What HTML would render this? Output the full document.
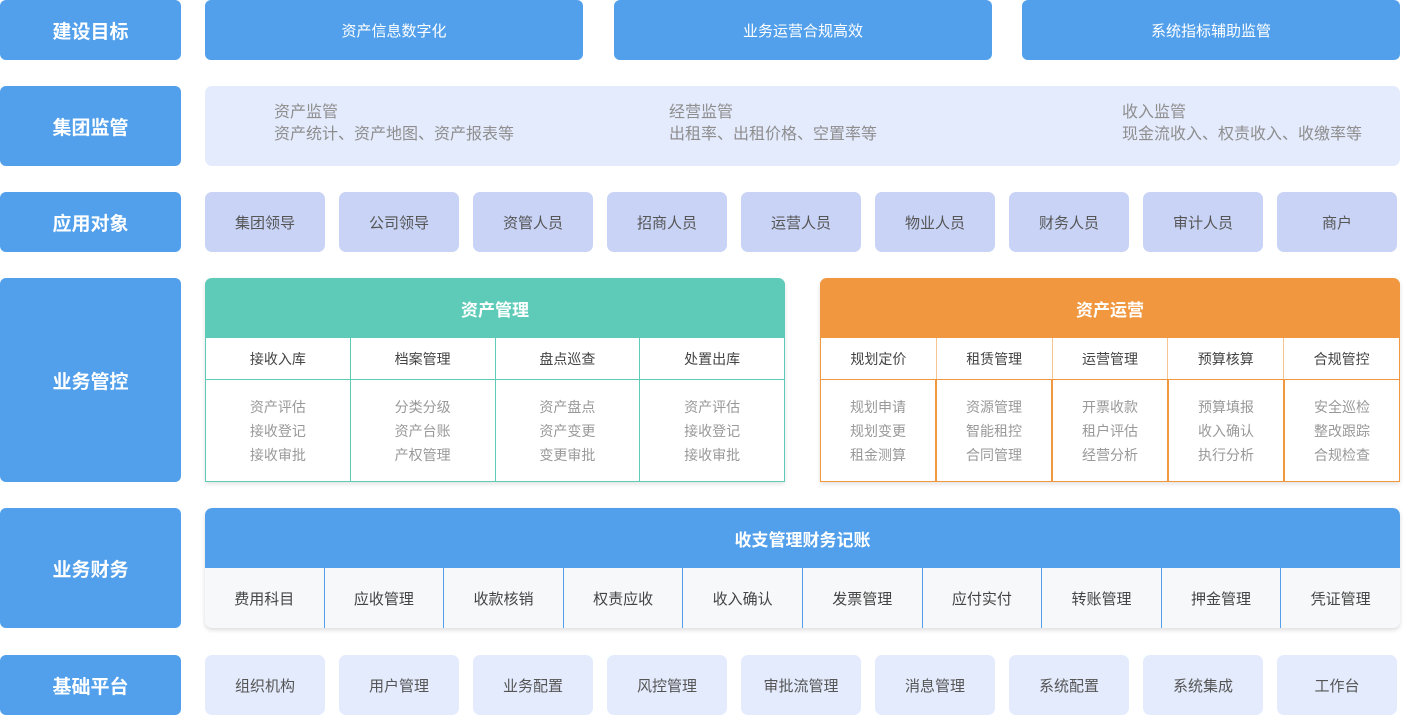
<!DOCTYPE html>
<html><head><meta charset="utf-8"><style>
*{margin:0;padding:0;box-sizing:border-box}
body{width:1409px;height:715px;position:relative;background:#fff;font-family:"Liberation Sans","Noto Sans CJK SC",sans-serif;overflow:hidden}
.a{position:absolute;display:flex;align-items:center;justify-content:center}
.L{left:0;width:181px;background:#52a0eb;color:#fff;font-size:19px;font-weight:bold;border-radius:6px}
.g{background:#52a0eb;color:#fff;font-size:15px;border-radius:6px;top:0;height:60px;width:378px}
.o{background:#c9d3f5;color:#555;font-size:15px;border-radius:7px;width:120px;height:60px;top:192px}
.p{background:#e4ebfd;color:#555;font-size:15px;border-radius:7px;width:120px;height:60px;top:655px}
.sup{position:absolute;color:#8e8e8e;font-size:16px;line-height:22px;top:102px}
.tbl{position:absolute;top:278px;height:204px;box-shadow:0 2px 5px rgba(0,0,0,.12);border-radius:7px 7px 0 0;background:#fff}
.hd{height:60px;color:#fff;font-size:17px;font-weight:bold;display:flex;align-items:center;justify-content:center;border-radius:7px 7px 0 0}
.row{display:flex}
.row div{flex:1;display:flex;align-items:center;justify-content:center;text-align:center}
.sh{height:42px;font-size:14px;color:#444}
.ct{height:102px;font-size:14px;color:#999;line-height:24px}
</style></head><body>
<div class="a L" style="top:0;height:60px">建设目标</div>
<div class="a L" style="top:86px;height:80px">集团监管</div>
<div class="a L" style="top:192px;height:60px">应用对象</div>
<div class="a L" style="top:278px;height:204px">业务管控</div>
<div class="a L" style="top:508px;height:120px">业务财务</div>
<div class="a L" style="top:655px;height:60px">基础平台</div>

<div class="a g" style="left:205px">资产信息数字化</div>
<div class="a g" style="left:614px">业务运营合规高效</div>
<div class="a g" style="left:1022px">系统指标辅助监管</div>

<div style="position:absolute;left:205px;top:86px;width:1195px;height:80px;background:#e4ebfd;border-radius:7px"></div>
<div class="sup" style="left:274px">资产监管<br>资产统计、资产地图、资产报表等</div>
<div class="sup" style="left:669px">经营监管<br>出租率、出租价格、空置率等</div>
<div class="sup" style="left:1122px">收入监管<br>现金流收入、权责收入、收缴率等</div>

<div class="a o" style="left:205px">集团领导</div>
<div class="a o" style="left:339px">公司领导</div>
<div class="a o" style="left:473px">资管人员</div>
<div class="a o" style="left:607px">招商人员</div>
<div class="a o" style="left:741px">运营人员</div>
<div class="a o" style="left:875px">物业人员</div>
<div class="a o" style="left:1009px">财务人员</div>
<div class="a o" style="left:1143px">审计人员</div>
<div class="a o" style="left:1277px">商户</div>

<div class="tbl" style="left:205px;width:580px;border:1px solid #5ecbb8;border-top:none">
<div class="hd" style="background:#5ecbb8;margin:0 -1px">资产管理</div>
<div class="row sh" style="border-bottom:1px solid #5ecbb8">
<div>接收入库</div><div style="border-left:1px solid #5ecbb8">档案管理</div><div style="border-left:1px solid #5ecbb8">盘点巡查</div><div style="border-left:1px solid #5ecbb8">处置出库</div></div>
<div class="row ct">
<div>资产评估<br>接收登记<br>接收审批</div><div style="border-left:1px solid #5ecbb8">分类分级<br>资产台账<br>产权管理</div><div style="border-left:1px solid #5ecbb8">资产盘点<br>资产变更<br>变更审批</div><div style="border-left:1px solid #5ecbb8">资产评估<br>接收登记<br>接收审批</div></div>
</div>

<div class="tbl" style="left:820px;width:580px;border:1px solid #f0973f;border-top:none">
<div class="hd" style="background:#f0973f;margin:0 -1px">资产运营</div>
<div class="row sh" style="border-bottom:1px solid #f0973f">
<div>规划定价</div><div style="border-left:1px solid #f6c392">租赁管理</div><div style="border-left:1px solid #f6c392">运营管理</div><div style="border-left:1px solid #f6c392">预算核算</div><div style="border-left:1px solid #f6c392">合规管控</div></div>
<div class="row ct">
<div>规划申请<br>规划变更<br>租金测算</div><div style="border-left:2px solid #f0973f">资源管理<br>智能租控<br>合同管理</div><div style="border-left:2px solid #f0973f">开票收款<br>租户评估<br>经营分析</div><div style="border-left:2px solid #f0973f">预算填报<br>收入确认<br>执行分析</div><div style="border-left:2px solid #f0973f">安全巡检<br>整改跟踪<br>合规检查</div></div>
</div>

<div style="position:absolute;left:205px;top:508px;width:1195px;height:120px;border-radius:7px;box-shadow:0 2px 5px rgba(0,0,0,.14);overflow:hidden;background:#f7f8fa">
<div class="hd" style="background:#52a0eb">收支管理财务记账</div>
<div class="row" style="height:60px;font-size:15px;color:#444">
<div>费用科目</div><div style="border-left:1px solid #52a0eb">应收管理</div><div style="border-left:1px solid #52a0eb">收款核销</div><div style="border-left:1px solid #52a0eb">权责应收</div><div style="border-left:1px solid #52a0eb">收入确认</div><div style="border-left:1px solid #52a0eb">发票管理</div><div style="border-left:1px solid #52a0eb">应付实付</div><div style="border-left:1px solid #52a0eb">转账管理</div><div style="border-left:1px solid #52a0eb">押金管理</div><div style="border-left:1px solid #52a0eb">凭证管理</div></div>
</div>

<div class="a p" style="left:205px">组织机构</div>
<div class="a p" style="left:339px">用户管理</div>
<div class="a p" style="left:473px">业务配置</div>
<div class="a p" style="left:607px">风控管理</div>
<div class="a p" style="left:741px">审批流管理</div>
<div class="a p" style="left:875px">消息管理</div>
<div class="a p" style="left:1009px">系统配置</div>
<div class="a p" style="left:1143px">系统集成</div>
<div class="a p" style="left:1277px">工作台</div>
</body></html>
